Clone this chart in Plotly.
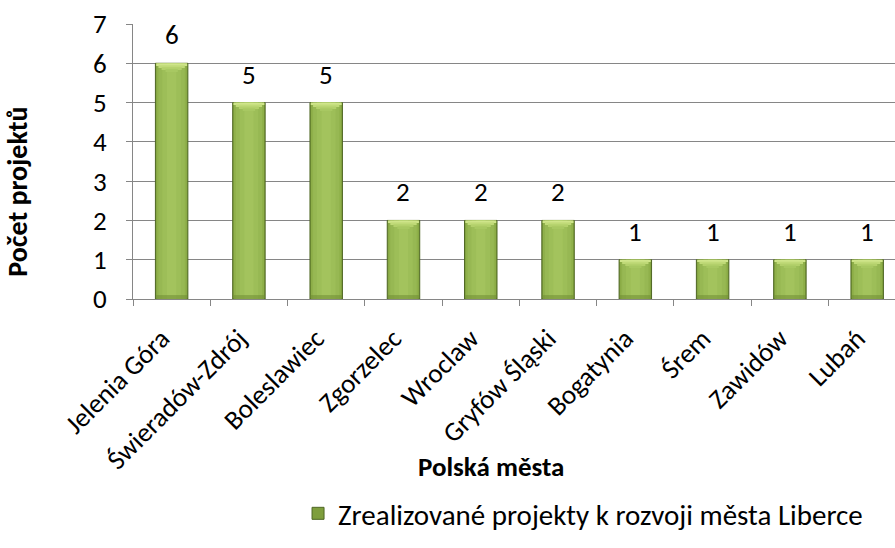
import plotly.graph_objects as go

# Number of completed projects per Polish town
cities = ["Jelenia Góra", "Świeradów-Zdrój", "Boleslawiec", "Zgorzelec", "Wroclaw",
          "Gryfów Śląski", "Bogatynia", "Śrem", "Zawidów", "Lubań"]
projects = [6, 5, 5, 2, 2, 2, 1, 1, 1, 1]
y_ticks = [0, 1, 2, 3, 4, 5, 6, 7]

series_name = "Zrealizované projekty k rozvoji města Liberce"
FONT = "Carlito, Calibri, Lato, sans-serif"
FS = 27

fig = go.Figure()

# Base bar with dark outline (also used for the legend entry)
fig.add_trace(go.Bar(
    x=cities, y=projects, width=0.42, name=series_name,
    marker=dict(color="#7E9E3C", line=dict(color="#4E6623", width=1)),
    showlegend=True,
))

# Horizontal shading: narrower, lighter layers on top of the base bar
for w, col in [(0.39, "#8FB04A"), (0.34, "#97B853"), (0.24, "#9DBE58"), (0.12, "#A3C35D")]:
    fig.add_trace(go.Bar(x=cities, y=projects, width=w, marker=dict(color=col, line_width=0),
                         showlegend=False, hoverinfo="skip"))

# Darker foot of each bar
fig.add_trace(go.Bar(x=cities, y=[0.1] * len(projects), base=[0] * len(projects), width=0.40,
                     marker=dict(color="#6F8C33", opacity=0.55, line_width=0),
                     showlegend=False, hoverinfo="skip"))

# Bevelled top: stacked light bands, narrowing downwards
bevel = [(0.40, 0.05, 0.00, "#CFE58A"), (0.34, 0.05, 0.05, "#C0DA78"),
         (0.26, 0.05, 0.10, "#B3D06B"), (0.16, 0.05, 0.15, "#A8C862")]
for w, h, off, col in bevel:
    fig.add_trace(go.Bar(x=cities, y=[h] * len(projects), base=[v - off - h for v in projects],
                         width=w, marker=dict(color=col, line_width=0),
                         showlegend=False, hoverinfo="skip"))

# Value labels above bars
for c, v in zip(cities, projects):
    fig.add_annotation(x=c, y=v, text=str(v), showarrow=False, yanchor="bottom", yshift=10,
                       font=dict(family=FONT, size=FS, color="black"))

# Axis titles
fig.add_annotation(text="<b>Polská města</b>", xref="paper", yref="paper", x=0.470, y=-0.61,
                   yanchor="middle", showarrow=False,
                   font=dict(family=FONT, size=FS, color="black"))
fig.add_annotation(text="<b>Počet projektů</b>", xref="paper", yref="paper", x=-0.151, y=0.39,
                   xanchor="center", yanchor="middle", textangle=-90, showarrow=False,
                   font=dict(family=FONT, size=28, color="black"))

fig.update_layout(
    width=895, height=548,
    margin=dict(l=133, r=0, t=24, b=249),
    paper_bgcolor="white", plot_bgcolor="white",
    barmode="overlay",
    font=dict(family=FONT, size=FS, color="black"),
    legend=dict(orientation="h", xref="container", yref="container", x=0.333, y=0.063,
                xanchor="left", yanchor="middle", font=dict(family=FONT, size=29),
                itemwidth=30, tracegroupgap=0),
    xaxis=dict(type="category", range=[-0.5, 9.36], showline=True, linecolor="#868686",
               linewidth=1, ticks="outside", tickson="boundaries", ticklen=6,
               tickcolor="#868686", tickangle=-45, showgrid=False,
               ticklabelstandoff=12, ticklabelshift=-10,
               tickfont=dict(family=FONT, size=FS)),
    yaxis=dict(range=[0, 7], tickvals=y_ticks, showline=True, linecolor="#868686",
               linewidth=1, ticks="outside", ticklen=6, tickcolor="#868686",
               gridcolor="#868686", gridwidth=1, zeroline=False,
               ticklabelstandoff=14, tickfont=dict(family=FONT, size=FS)),
)

fig.write_html("out.html")
